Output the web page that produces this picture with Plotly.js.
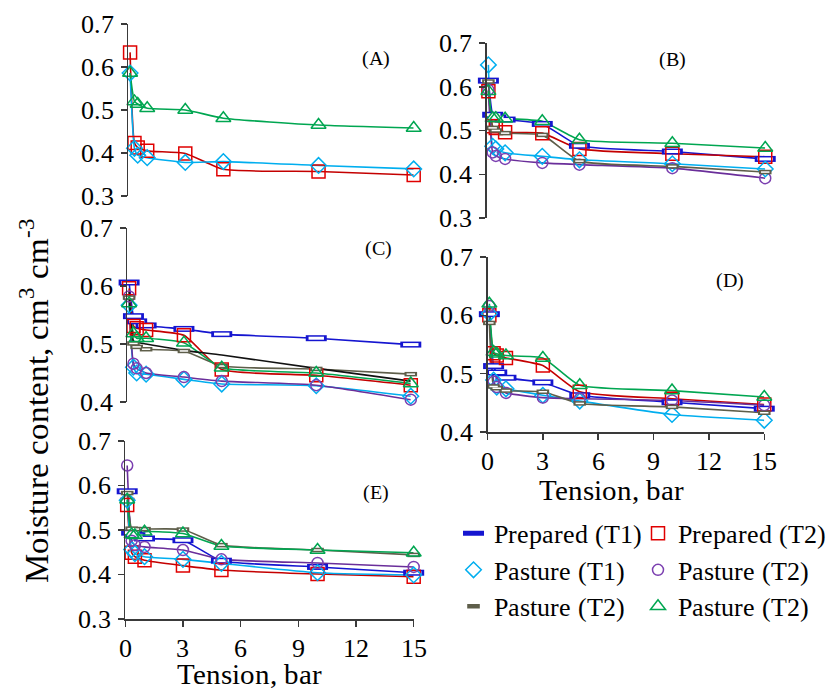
<!DOCTYPE html>
<html><head><meta charset="utf-8">
<script src="https://cdn.plot.ly/plotly-3.0.1.min.js"></script>
<style>
@font-face{font-family:'ChartSerif';src:local('Liberation Serif'),local('LiberationSerif'),local('LiberationSerif-Regular');font-weight:normal;font-style:normal}
html,body{margin:0;padding:0;background:#fff}#chart{width:831px;height:689px}</style>
</head><body>
<div id="chart"></div>
<script>
// Tension (bar) at which moisture content was measured
const tension = [0.1, 0.33, 0.5, 1, 3, 5, 10, 15];

// Panel A
const prepT2_A  = [0.634, 0.423, 0.413, 0.405, 0.399, 0.362, 0.357, 0.349];
const pastT1_A  = [0.586, 0.411, 0.395, 0.389, 0.378, 0.380, 0.371, 0.363];
const pastT2t_A = [0.586, 0.520, 0.514, 0.504, 0.500, 0.481, 0.465, 0.458];

// Panel B
const prepT1_B  = [0.614, 0.536, 0.530, 0.525, 0.515, 0.465, 0.452, 0.435];
const prepT2_B  = [0.590, 0.510, 0.506, 0.496, 0.494, 0.458, 0.447, 0.440];
const pastT1_B  = [0.650, 0.464, 0.458, 0.449, 0.441, 0.433, 0.424, 0.412];
const pastT2c_B = [0.593, 0.450, 0.442, 0.435, 0.426, 0.422, 0.414, 0.391];
const pastT2g_B = [0.612, 0.506, 0.500, 0.494, 0.490, 0.430, 0.418, 0.405];
const pastT2t_B = [0.590, 0.528, 0.528, 0.527, 0.521, 0.479, 0.471, 0.460];

// Panel C
const prepT1_C  = [0.606, 0.548, 0.539, 0.532, 0.526, 0.517, 0.510, 0.499];
const prepT2_C  = [0.596, 0.531, 0.527, 0.524, 0.515, 0.456, 0.446, 0.429];
const pastT1_C  = [0.567, 0.460, 0.450, 0.448, 0.439, 0.431, 0.428, 0.410];
const pastT2c_C = [0.582, 0.466, 0.458, 0.450, 0.443, 0.436, 0.429, 0.404];
const pastT2g_C = [0.580, 0.501, 0.495, 0.491, 0.488, 0.462, 0.457, 0.448];
const pastT2t_C = [0.570, 0.518, 0.510, 0.510, 0.502, 0.459, 0.450, 0.432];
const fitLine_C = [0.590, 0.505, 0.503, 0.500, 0.489, 0.481, 0.458, 0.436];

// Panel D
const prepT1_D  = [0.602, 0.513, 0.502, 0.493, 0.485, 0.463, 0.451, 0.440];
const prepT2_D  = [0.600, 0.535, 0.531, 0.527, 0.514, 0.469, 0.457, 0.447];
const pastT1_D  = [0.603, 0.489, 0.477, 0.474, 0.463, 0.453, 0.430, 0.420];
const pastT2c_D = [0.616, 0.486, 0.477, 0.467, 0.459, 0.457, 0.454, 0.446];
const pastT2g_D = [0.587, 0.478, 0.475, 0.471, 0.469, 0.449, 0.443, 0.433];
const pastT2t_D = [0.620, 0.537, 0.534, 0.531, 0.527, 0.480, 0.471, 0.460];

// Panel E
const prepT1_E  = [0.587, 0.494, 0.488, 0.481, 0.477, 0.431, 0.417, 0.404];
const prepT2_E  = [0.556, 0.449, 0.440, 0.432, 0.420, 0.410, 0.401, 0.395];
const pastT1_E  = [0.567, 0.456, 0.447, 0.440, 0.434, 0.425, 0.404, 0.399];
const pastT2c_E = [0.645, 0.476, 0.466, 0.462, 0.455, 0.434, 0.426, 0.417];
const pastT2g_E = [0.583, 0.503, 0.502, 0.502, 0.501, 0.466, 0.455, 0.444];
const pastT2t_E = [0.568, 0.490, 0.488, 0.496, 0.492, 0.464, 0.455, 0.449];

const yTickVals = [0.3, 0.4, 0.5, 0.6, 0.7];
const xTickVals = [0, 3, 6, 9, 12, 15];
const panelLabels = ['(A)', '(B)', '(C)', '(D)', '(E)'];
const seriesNames = ['Prepared (T1)', 'Prepared (T2)', 'Pasture (T1)', 'Pasture (T2)', 'Pasture (T2)', 'Pasture (T2)'];

const FONT = 'ChartSerif';
const TICK = 25.6, LEG = 25.8, TTL = 28.6;
const W = 831, H = 689;
const px = v => v / W, py = v => 1 - v / H;

const seriesDefs = [
  {key:'prepT1',  legend:'legend',  color:'#1515D0', kind:'rectBig'},
  {key:'prepT2',  legend:'legend2', color:'#E00000', line:'#C40000', symbol:'square-open', size:13},
  {key:'pastT1',  legend:'legend',  color:'#00AEEF', symbol:'diamond-open', size:12},
  {key:'pastT2c', legend:'legend2', color:'#7B3FB0', line:'#6A2E9A', symbol:'circle-open', size:11},
  {key:'pastT2g', legend:'legend',  color:'#5E5E4A', kind:'rectSmall'},
  {key:'pastT2t', legend:'legend2', color:'#00A651', symbol:'triangle-up-open', size:13},
];

const panels = [
  {s:'',  x:[132,426], y:[24,196],  yr:[0.3,0.7], bottom:false, lab:[387,58],
   data:{prepT2:prepT2_A, pastT1:pastT1_A, pastT2t:pastT2t_A}},
  {s:'2', x:[501,788], y:[43,218],  yr:[0.3,0.7], bottom:false, lab:[693,59],
   data:{prepT1:prepT1_B, prepT2:prepT2_B, pastT1:pastT1_B, pastT2c:pastT2c_B, pastT2g:pastT2g_B, pastT2t:pastT2t_B}},
  {s:'3', x:[131,423], y:[228,402], yr:[0.4,0.7], bottom:false, lab:[390,248], fit:fitLine_C,
   data:{prepT1:prepT1_C, prepT2:prepT2_C, pastT1:pastT1_C, pastT2c:pastT2c_C, pastT2g:pastT2g_C, pastT2t:pastT2t_C}},
  {s:'4', x:[502,787], y:[257,432], yr:[0.4,0.7], bottom:true, lab:[752,280], title:[630,490],
   data:{prepT1:prepT1_D, prepT2:prepT2_D, pastT1:pastT1_D, pastT2c:pastT2c_D, pastT2g:pastT2g_D, pastT2t:pastT2t_D}},
  {s:'5', x:[129,426], y:[441,619], yr:[0.3,0.7], bottom:true, lab:[387,492], title:[257,674],
   data:{prepT1:prepT1_E, prepT2:prepT2_E, pastT1:pastT1_E, pastT2c:pastT2c_E, pastT2g:pastT2g_E, pastT2t:pastT2t_E}},
];

const lineTraces = [], markerTraces = [];
const shown = new Set();
const legendBase = {yanchor:'top', xanchor:'left', bgcolor:'rgba(0,0,0,0)',
  font:{family:FONT, size:LEG, color:'#000'}, tracegroupgap:0, itemwidth:30};
const layout = {
  width: W, height: H, margin:{l:0,r:0,t:0,b:0},
  paper_bgcolor:'#fff', plot_bgcolor:'rgba(0,0,0,0)',
  font:{family:FONT, color:'#000'},
  annotations: [],
  legend:Object.assign({x:px(467), y:py(510)}, legendBase),
  legend2:Object.assign({x:px(657), y:py(510)}, legendBase),
};

panels.forEach((p, pi) => {
  const xa = 'x' + p.s, ya = 'y' + p.s;
  layout['xaxis' + p.s] = {
    domain:[px(p.x[0]), px(p.x[1])], range:[0,15], anchor:ya,
    showgrid:false, zeroline:false, showline:p.bottom, linecolor:'#3a3a3a', linewidth:1.5,
    ticks:p.bottom?'outside':'', ticklen:6, tickwidth:1.5, tickcolor:'#3a3a3a',
    tickvals:xTickVals, showticklabels:p.bottom, ticklabelstandoff:0,
    tickfont:{family:FONT, size:TICK, color:'#000'}, visible:p.bottom
  };
  layout['yaxis' + p.s] = {
    domain:[py(p.y[1]), py(p.y[0])], range:p.yr, anchor:xa,
    showgrid:false, zeroline:false, showline:true, linecolor:'#3a3a3a', linewidth:1.5,
    ticks:'outside', ticklen:6, tickwidth:1.5, tickcolor:'#3a3a3a',
    tickvals:yTickVals.filter(v => v >= p.yr[0]-1e-9), tickformat:'.1f', ticklabelstandoff:2,
    tickfont:{family:FONT, size:TICK, color:'#000'}
  };
  layout.annotations.push({xref:'paper', yref:'paper', x:px(p.lab[0]), y:py(p.lab[1]),
    xanchor:'center', yanchor:'middle',
    text:panelLabels[pi], showarrow:false, font:{family:FONT, size:20, color:'#000'}});
  if (p.title) layout.annotations.push({xref:'paper', yref:'paper', x:px(p.title[0]), y:py(p.title[1]),
    xanchor:'center', yanchor:'middle',
    text:'Tension, bar', showarrow:false, font:{family:FONT, size:TTL, color:'#000'}});

  seriesDefs.forEach((d, si) => {
    const vals = p.data[d.key];
    if (!vals) return;
    lineTraces.push({x:tension, y:vals, xaxis:xa, yaxis:ya, mode:'lines', showlegend:false,
      hoverinfo:'skip', line:{color:d.line || d.color, width:1.6, shape:'spline', smoothing:0.5},
      legendgroup:d.key, legend:d.legend});
    const first = !shown.has(d.key);
    shown.add(d.key);
    if (d.kind === 'rectBig' || d.kind === 'rectSmall') {
      const big = d.kind === 'rectBig';
      markerTraces.push({x:tension, y:vals, xaxis:xa, yaxis:ya, mode:'markers', name:seriesNames[si],
        legendgroup:d.key, legend:d.legend, legendrank:si, showlegend:first, cliponaxis:false,
        marker:{symbol:'line-ew', size:big?15:9, color:d.color, line:{color:d.color, width:big?6:4.5}}});
      markerTraces.push({x:tension, y:vals, xaxis:xa, yaxis:ya, mode:'markers', showlegend:false,
        legendgroup:d.key, hoverinfo:'skip', cliponaxis:false,
        marker:{symbol:'line-ew', size:big?11:6, color:'#fff', line:{color:'#fff', width:big?3:1.5}}});
    } else {
      markerTraces.push({x:tension, y:vals, xaxis:xa, yaxis:ya, mode:'markers', name:seriesNames[si],
        legendgroup:d.key, legend:d.legend, legendrank:si, showlegend:first, cliponaxis:false,
        marker:{symbol:d.symbol, size:d.size, color:d.color, line:{color:d.color, width:1.5}}});
    }
  });
  if (p.fit) lineTraces.push({x:tension, y:p.fit, xaxis:xa, yaxis:ya, mode:'lines', showlegend:false,
      hoverinfo:'skip', line:{color:'#111', width:1.6, shape:'spline', smoothing:0.5}});
});

layout.annotations.push({xref:'paper', yref:'paper', x:px(35), y:py(400), textangle:-90,
  xanchor:'center', yanchor:'middle',
  text:'Moisture content, cm<sup>3</sup> cm<sup>-3</sup>', showarrow:false,
  font:{family:FONT, size:33, color:'#000'}});

const allTraces = lineTraces.concat(markerTraces);
const cfg = {staticPlot:true, displayModeBar:false};
const draw = () => Plotly.newPlot('chart', allTraces, layout, cfg);
draw();
if (document.fonts && document.fonts.load) {
  Promise.all([20, TICK, LEG, TTL, 33].map(s => document.fonts.load(s + 'px "ChartSerif"')))
    .then(() => document.fonts.ready)
    .then(draw)
    .catch(() => {});
}
setTimeout(draw, 400);
</script></body></html>
